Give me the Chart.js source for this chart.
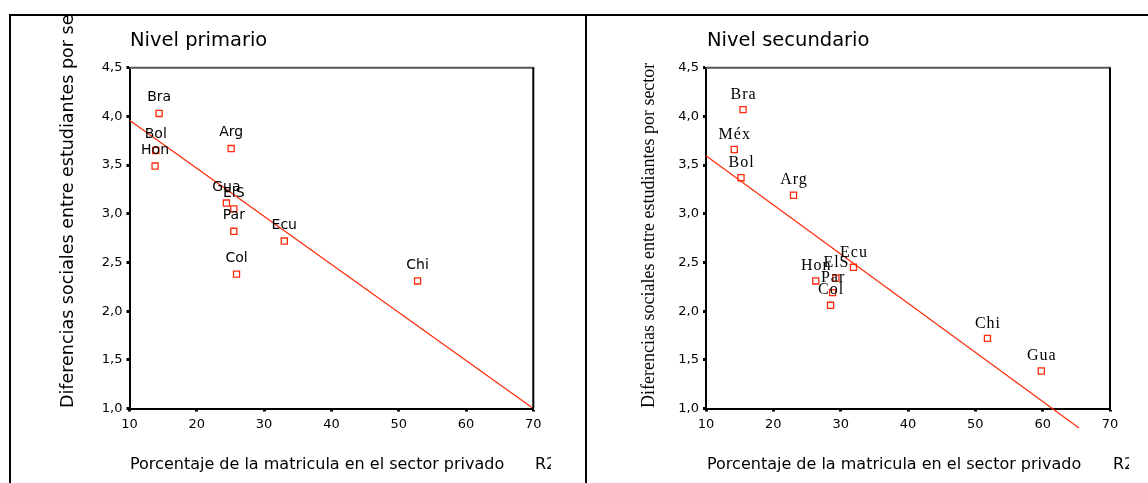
<!DOCTYPE html>
<html>
<head>
<meta charset="utf-8">
<script src="https://cdn.jsdelivr.net/npm/chart.js@4.4.1/dist/chart.umd.min.js"></script>
<style>
  html, body { margin:0; padding:0; background:#fff; }
  #wrap { position:relative; width:1148px; height:483px; overflow:hidden; background:#fff; }
  .ln { position:absolute; background:#000; z-index:5; }
  .clip { position:absolute; overflow:hidden; }
  .txt { position:absolute; white-space:nowrap; color:#000; line-height:1; }
  canvas { position:absolute; top:0; }
</style>
</head>
<body>
<div id="wrap">
  <canvas id="c1" width="585" height="483" style="left:0"></canvas>
  <canvas id="c2" width="562" height="483" style="left:586px"></canvas>

  <div class="clip" style="left:11px;top:16px;width:574px;height:467px;">
    <div class="txt" style="left:119px;top:12px;font:19.5px 'DejaVu Sans';">Nivel primario</div>
    <div class="txt" style="left:46px;top:392px;font:17.5px 'DejaVu Sans';transform:rotate(-90deg);transform-origin:left top;">Diferencias sociales entre estudiantes por sector</div>
    <div class="txt" style="left:119px;top:437.5px;font:16px 'DejaVu Sans';">Porcentaje de la matricula en el sector privado</div>
    <div class="clip" style="left:524px;top:437.5px;width:16px;height:20px;"><div class="txt" style="left:0;top:0;font:16px 'DejaVu Sans';">R2</div></div>
  </div>
  <div class="clip" style="left:587px;top:16px;width:561px;height:467px;">
    <div class="txt" style="left:120px;top:12px;font:19.5px 'DejaVu Sans';">Nivel secundario</div>
    <div class="txt" style="left:51px;top:392px;font:18px 'Liberation Serif';transform:rotate(-90deg);transform-origin:left top;">Diferencias sociales entre estudiantes por sector</div>
    <div class="txt" style="left:120px;top:437.5px;font:16px 'DejaVu Sans';">Porcentaje de la matricula en el sector privado</div>
    <div class="clip" style="left:526px;top:437.5px;width:16px;height:20px;"><div class="txt" style="left:0;top:0;font:16px 'DejaVu Sans';">R2</div></div>
  </div>

  <div class="ln" style="left:9px;top:14px;width:1139px;height:2px;"></div>
  <div class="ln" style="left:9px;top:14px;width:2px;height:469px;"></div>
  <div class="ln" style="left:585px;top:14px;width:2px;height:469px;"></div>
</div>

<script>
// ---- Data ----
const primCountries = ['Bra','Bol','Hon','Arg','Gua','ElS','Par','Col','Ecu','Chi'];
const primX = [14.4, 13.9, 13.8, 25.1, 24.4, 25.5, 25.5, 25.9, 33.0, 52.8];
const primY = [4.03, 3.65, 3.49, 3.67, 3.11, 3.05, 2.82, 2.38, 2.72, 2.31];
const primFitX = [10, 70];
const primFitY = [3.96, 1.0];

const secCountries = ['Bra','Méx','Bol','Arg','Ecu','Hon','ElS','Par','Col','Chi','Gua'];
const secX = [15.5, 14.2, 15.2, 23.0, 31.9, 26.3, 29.3, 28.8, 28.5, 51.8, 59.8];
const secY = [4.07, 3.66, 3.37, 3.19, 2.45, 2.31, 2.34, 2.19, 2.06, 1.72, 1.385];
const secFitX = [10, 65.4];
const secFitY = [3.595, 0.80];

const xTickValues = [10, 20, 30, 40, 50, 60, 70];
const yTickValues = [1.0, 1.5, 2.0, 2.5, 3.0, 3.5, 4.0, 4.5];

// ---- Helpers ----
const RED = '#ff2a0a';
const toPts = (xs, ys) => xs.map((x, i) => ({ x: x, y: ys[i] }));

const labelPlugin = {
  id: 'ptLabels',
  afterDatasetsDraw(chart, args, opts) {
    const meta = chart.getDatasetMeta(0);
    const ctx = chart.ctx;
    ctx.save();
    ctx.font = opts.font;
    ctx.fillStyle = '#000';
    ctx.textAlign = 'center';
    ctx.textBaseline = 'middle';
    const ls = opts.letterSpacing || 0;
    if (ls) ctx.letterSpacing = ls + 'px';
    meta.data.forEach((pt, i) => {
      ctx.fillText(opts.labels[i], pt.x + ls / 2, pt.y - opts.offset);
    });
    ctx.restore();
  }
};

const boxPlugin = {
  id: 'plotBox',
  afterDraw(chart) {
    const a = chart.chartArea, ctx = chart.ctx;
    ctx.save();
    ctx.strokeStyle = '#555';
    ctx.lineWidth = 2;
    ctx.beginPath();
    ctx.moveTo(a.left, a.top); ctx.lineTo(a.right + 1, a.top);
    ctx.stroke();
    ctx.strokeStyle = '#000';
    ctx.beginPath();
    ctx.moveTo(a.right, a.top); ctx.lineTo(a.right, a.bottom);
    ctx.stroke();
    ctx.restore();
  }
};

function makeChart(id, xs, ys, names, fitX, fitY, yScaleWidth, rightPad, labelFont, labelOffset, letterSpacing, clipLine) {
  return new Chart(document.getElementById(id), {
    data: {
      datasets: [
        {
          type: 'scatter',
          data: toPts(xs, ys),
          pointStyle: 'rect',
          pointRadius: 4.3,
          pointBorderWidth: 1.3,
          borderColor: RED,
          backgroundColor: 'rgba(255,255,255,0)',
          order: 1
        },
        {
          type: 'line',
          data: toPts(fitX, fitY),
          borderColor: RED,
          borderWidth: 1.2,
          pointRadius: 0,
          fill: false,
          clip: clipLine ? undefined : false,
          order: 2
        }
      ]
    },
    options: {
      responsive: false,
      animation: false,
      events: [],
      layout: { padding: { top: 67.7, right: rightPad, left: 0, bottom: 0 } },
      plugins: {
        legend: { display: false },
        tooltip: { enabled: false },
        title: { display: false },
        ptLabels: { labels: names, font: labelFont, offset: labelOffset, letterSpacing: letterSpacing }
      },
      scales: {
        x: {
          type: 'linear',
          min: 10, max: 70,
          afterFit(s) { s.height = 483 - 408.5; },
          afterBuildTicks(s) { s.ticks = xTickValues.map(v => ({ value: v })); },
          ticks: {
            color: '#000',
            font: { family: 'DejaVu Sans', size: 13 },
            padding: 5,
            maxRotation: 0,
            callback: v => String(v)
          },
          grid: { drawOnChartArea: false, drawTicks: true, tickLength: 3, tickWidth: 3, tickColor: '#000' },
          border: { display: true, color: '#000', width: 2 }
        },
        y: {
          type: 'linear',
          min: 1, max: 4.5,
          afterFit(s) { s.width = yScaleWidth; },
          afterBuildTicks(s) { s.ticks = yTickValues.map(v => ({ value: v })); },
          ticks: {
            color: '#000',
            font: { family: 'DejaVu Sans', size: 13 },
            padding: 4,
            callback: v => v.toFixed(1).replace('.', ',')
          },
          grid: { drawOnChartArea: false, drawTicks: true, tickLength: 3, tickWidth: 3, tickColor: '#000' },
          border: { display: true, color: '#000', width: 2 }
        }
      }
    },
    plugins: [labelPlugin, boxPlugin]
  });
}

makeChart('c1', primX, primY, primCountries, primFitX, primFitY, 129.5, 585 - 533.3,
          "14px 'DejaVu Sans'", 16, 0, true);
makeChart('c2', secX, secY, secCountries, secFitX, secFitY, 120, 562 - 524,
          "16px 'Liberation Serif'", 15, 1, false);
</script>
</body>
</html>
